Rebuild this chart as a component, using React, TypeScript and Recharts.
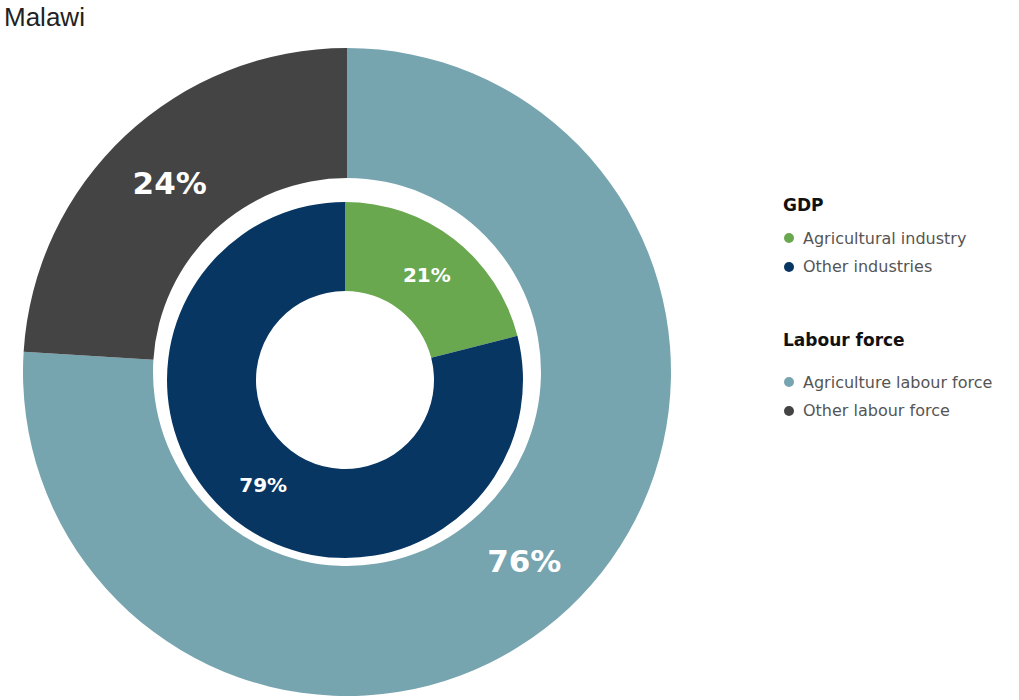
import { PieChart, Pie, Cell, Legend } from "recharts";

const title = "Malawi";

const gdpLabels = ["Agricultural industry", "Other industries"];
const gdpValues = [21, 79];
const gdpColors = ["#6aa84f", "#083662"];

const labourLabels = ["Agriculture labour force", "Other labour force"];
const labourValues = [76, 24];
const labourColors = ["#76a4af", "#444444"];

const gdpData = gdpLabels.map((name, i) => ({ name, value: gdpValues[i] }));
const labourData = labourLabels.map((name, i) => ({ name, value: labourValues[i] }));

const RADIAN = Math.PI / 180;
const FONT = "'DejaVu Sans', Verdana, sans-serif";

function makeLabel(fontSize: number) {
  return (props: any) => {
    const { cx, cy, midAngle, innerRadius, outerRadius, value } = props;
    const r = (innerRadius + outerRadius) / 2;
    const x = cx + r * Math.cos(-midAngle * RADIAN);
    const y = cy + r * Math.sin(-midAngle * RADIAN);
    return (
      <text
        x={x}
        y={y}
        fill="#fff"
        textAnchor="middle"
        dominantBaseline="central"
        fontFamily={FONT}
        fontWeight="bold"
        fontSize={fontSize}
      >
        {`${value}%`}
      </text>
    );
  };
}

function LegendGroup({ heading, labels, colors, top, gap }: { heading: string; labels: string[]; colors: string[]; top: number; gap: number }) {
  return (
    <div style={{ position: "absolute", left: 783, top, fontFamily: FONT, whiteSpace: "nowrap" }}>
      <div style={{ fontSize: 17, fontWeight: "bold", color: "#111", height: 20, lineHeight: "20px", marginBottom: gap }}>
        {heading}
      </div>
      {labels.map((l, i) => (
        <div key={l} style={{ display: "flex", alignItems: "center", height: 28.5, fontSize: 16, color: "#555" }}>
          <span
            style={{
              display: "inline-block",
              width: 10,
              height: 10,
              borderRadius: 5,
              background: colors[i],
              marginLeft: 1,
              marginRight: 9,
            }}
          />
          {l}
        </div>
      ))}
    </div>
  );
}

export default function App() {
  return (
    <div style={{ position: "absolute", left: 0, top: 0, width: 1019, height: 700, background: "#fff" }}>
      <div
        style={{
          position: "absolute",
          left: 4,
          top: 2,
          fontFamily: "'Liberation Sans', Arial, sans-serif",
          fontSize: 26,
          color: "#222",
        }}
      >
        {title}
      </div>
      <PieChart width={1019} height={700} margin={{ top: 0, right: 0, bottom: 0, left: 0 }}>
        <Pie
          data={labourData}
          dataKey="value"
          nameKey="name"
          cx={347}
          cy={372}
          innerRadius={194}
          outerRadius={324}
          startAngle={90}
          endAngle={-270}
          stroke="none"
          labelLine={false}
          label={makeLabel(31)}
          isAnimationActive={false}
        >
          {labourData.map((d, i) => (
            <Cell key={d.name} fill={labourColors[i]} />
          ))}
        </Pie>
        <Pie
          data={gdpData}
          dataKey="value"
          nameKey="name"
          cx={345}
          cy={380}
          innerRadius={89}
          outerRadius={178}
          startAngle={90}
          endAngle={-270}
          stroke="none"
          labelLine={false}
          label={makeLabel(20)}
          isAnimationActive={false}
        >
          {gdpData.map((d, i) => (
            <Cell key={d.name} fill={gdpColors[i]} />
          ))}
        </Pie>
        <Legend
          content={() => (
            <div>
              <LegendGroup heading="GDP" labels={gdpLabels} colors={gdpColors} top={195} gap={9} />
              <LegendGroup heading="Labour force" labels={labourLabels} colors={labourColors} top={330} gap={18} />
            </div>
          )}
          wrapperStyle={{ position: "absolute", left: 0, top: 0, width: 1019, height: 0 }}
        />
      </PieChart>
    </div>
  );
}
